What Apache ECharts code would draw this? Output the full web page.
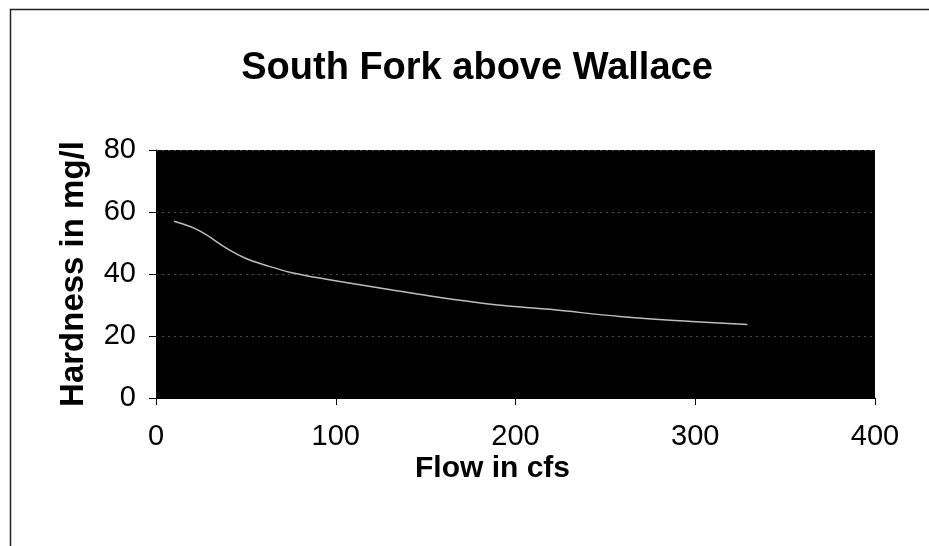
<!DOCTYPE html>
<html>
<head>
<meta charset="utf-8">
<script src="https://cdn.jsdelivr.net/npm/echarts@6/dist/echarts.min.js"></script>
<style>html,body{margin:0;padding:0;background:#fff}#c{width:929px;height:546px}</style>
</head>
<body>
<div id="c"></div>
<script>
const titleText = "South Fork above Wallace";
const xName = "Flow in cfs";
const yName = "Hardness in mg/l";
const flow = [10, 24, 40, 50, 60, 75, 94, 143, 163, 190, 219, 258, 298, 329];
const hardness = [57, 54, 48, 45, 43, 40.5, 38.4, 33.8, 32, 30, 28.6, 26.3, 24.7, 23.7];
const xTicks = [0, 100, 200, 300, 400];
const yTicks = [0, 20, 40, 60, 80];

const chart = echarts.init(document.getElementById('c'));
const FONT = '"Liberation Sans", Arial, sans-serif';
chart.setOption({
  animation: false,
  backgroundColor: '#fff',
  title: {
    text: titleText, left: 472, top: 45, textAlign: 'center',
    textStyle: { fontFamily: FONT, fontWeight: 'bold', fontSize: 38, color: '#000' }
  },
  graphic: [{
    type: 'rect', left: 8, top: 7, silent: true,
    shape: { width: 1000, height: 1000 },
    style: { fill: 'none', stroke: '#222', lineWidth: 1.5 }
  }],
  grid: { left: 156, right: 54, top: 150, bottom: 148, show: true, backgroundColor: '#000', borderWidth: 0 },
  xAxis: {
    type: 'value', min: xTicks[0], max: xTicks[xTicks.length - 1], interval: 100,
    name: xName, nameLocation: 'middle', nameGap: 56,
    nameTextStyle: { fontFamily: FONT, fontWeight: 'bold', fontSize: 30, color: '#000', padding: [0, 46, 0, 0] },
    axisLine: { show: true, lineStyle: { color: '#000', width: 1 } },
    axisTick: { show: true, length: 7, lineStyle: { color: '#000' } },
    axisLabel: { fontFamily: FONT, fontSize: 29, color: '#000', margin: 24 },
    splitLine: { show: false }
  },
  yAxis: {
    type: 'value', min: yTicks[0], max: yTicks[yTicks.length - 1], interval: 20,
    name: yName, nameLocation: 'middle', nameGap: 66,
    nameTextStyle: { fontFamily: FONT, fontWeight: 'bold', fontSize: 33, color: '#000' },
    axisLine: { show: true, lineStyle: { color: '#000', width: 1 } },
    axisTick: { show: true, length: 7, lineStyle: { color: '#000' } },
    axisLabel: { fontFamily: FONT, fontSize: 29, color: '#000', margin: 20 },
    splitLine: { show: true, lineStyle: { color: 'rgba(255,255,255,0.3)', type: [2, 4], width: 1 } }
  },
  series: [{
    type: 'line', smooth: 0.4, symbol: 'none',
    data: flow.map((f, i) => [f, hardness[i]]),
    lineStyle: { color: '#bdbdbd', width: 1.5 }
  }]
});
</script>
</body>
</html>
